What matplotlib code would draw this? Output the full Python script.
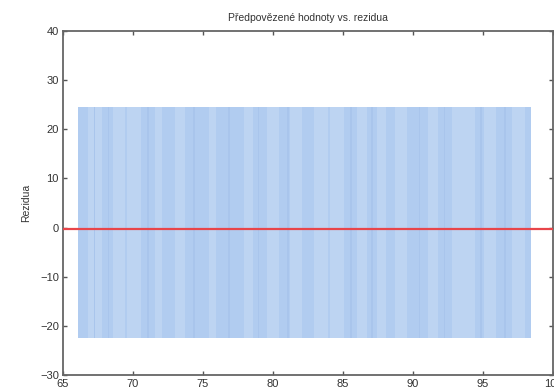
import matplotlib
matplotlib.use("Agg")
import matplotlib.pyplot as plt

plt.rcParams['font.family'] = ['Liberation Sans', 'DejaVu Sans']

# Data
pred_min = 66.05
pred_max = 98.4
resid_low = -22.5
resid_high = 24.5
light_start = [66.8, 68.6, 69.6, 71.6, 73.0, 75.4, 77.9, 79.6, 81.2, 82.9, 84.1, 86.0,
               87.4, 88.7, 91.1, 92.8, 95.1, 97.1]
light_end = [67.8, 69.4, 70.6, 72.1, 73.7, 75.9, 78.6, 80.4, 82.1, 83.9, 85.1, 86.7,
             88.1, 89.6, 91.8, 94.4, 95.9, 98.0]
dark_lines = [67.2, 68.2, 71.0, 74.3, 76.8, 78.9, 81.0, 85.5, 87.0, 90.4, 92.2, 94.8, 96.5]
fit_level = -0.2
x_ticks = [65, 70, 75, 80, 85, 90, 95, 100]
y_ticks = [-30, -20, -10, 0, 10, 20, 30, 40]

fig = plt.figure(figsize=(5.54, 3.92), dpi=100)
ax = fig.add_axes([63/554, 17/392, (553-63)/554, (375-31)/392])

base = '#b1ccf0'
light = '#bdd4f2'
dark = '#a9c5ec'

ax.bar(pred_min, resid_high - resid_low, width=pred_max - pred_min, bottom=resid_low,
       align='edge', color=base, linewidth=0)
for s, e in zip(light_start, light_end):
    ax.bar(s, resid_high - resid_low, width=e - s, bottom=resid_low, align='edge',
           color=light, linewidth=0)
for d in dark_lines:
    ax.bar(d, resid_high - resid_low, width=0.12, bottom=resid_low, align='edge',
           color=dark, linewidth=0)

ax.axhline(fit_level, color='#e8454a', lw=1.6, zorder=5)

ax.set_xlim(65, 100)
ax.set_ylim(-30, 40)
ax.set_xticks(x_ticks)
ax.set_yticks(y_ticks)
ax.tick_params(direction='in', length=3, width=1, color='#555555', labelsize=8,
               labelcolor='#333333', top=True, right=True, pad=3)
for sp in ax.spines.values():
    sp.set_color('#666666')
    sp.set_linewidth(1.3)

ax.set_title('Předpovězené hodnoty vs. rezidua', fontsize=7.5, color='#333333', pad=7)
ax.set_ylabel('Rezidua', fontsize=7.5, color='#333333', labelpad=6)

fig.savefig('out.png', dpi=100)
